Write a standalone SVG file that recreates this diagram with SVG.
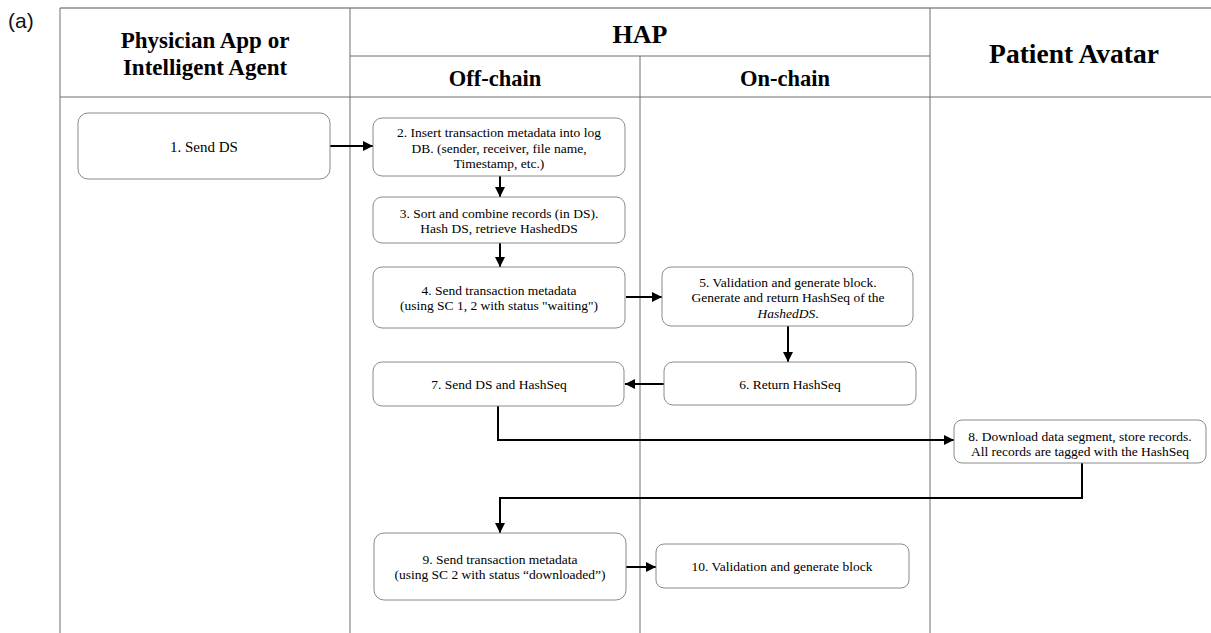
<svg xmlns="http://www.w3.org/2000/svg" width="1211" height="633" viewBox="0 0 1211 633">
  <style>
    .grid { stroke: #6e6e6e; stroke-width: 1; fill: none; }
    .top { stroke: #a8a8a8; stroke-width: 2; fill: none; }
    .head { font-family: "Liberation Serif", "Times New Roman", serif; font-weight: bold; fill: #000; text-anchor: middle; }
    .box { fill: #fff; stroke: #8a8a8a; stroke-width: 1; }
    .lbl { font-family: "Liberation Serif", "Times New Roman", serif; font-size: 13.5px; fill: #000; text-anchor: middle; }
    .big { font-size: 15px; }
    .edge { stroke: #000; stroke-width: 2; fill: none; marker-end: url(#arrow); }
  </style>
  <defs>
    <marker id="arrow" viewBox="0 0 10 10" refX="10" refY="5" markerWidth="10" markerHeight="10" markerUnits="userSpaceOnUse" orient="auto">
      <path d="M0,0 L10,5 L0,10 z" fill="#000"/>
    </marker>
  </defs>

  <rect width="1211" height="633" fill="#fff"/>

  <text x="8" y="28" font-family="Liberation Sans, Arial, sans-serif" font-size="21" fill="#111">(a)</text>

  <!-- swimlane grid -->
  <g id="lanes">
    <line class="top" x1="60" y1="8" x2="1211" y2="8"/>
    <line class="grid" x1="60" y1="8" x2="60" y2="633"/>
    <line class="grid" x1="350" y1="8" x2="350" y2="633"/>
    <line class="grid" x1="930" y1="8" x2="930" y2="633"/>
    <line class="grid" x1="640" y1="56" x2="640" y2="633"/>
    <line class="grid" x1="350" y1="56" x2="930" y2="56"/>
    <line class="grid" x1="60" y1="97" x2="1211" y2="97"/>
    <text class="head" x="205" y="48" font-size="23">Physician App or</text>
    <text class="head" x="205" y="75" font-size="23">Intelligent Agent</text>
    <text class="head" x="640" y="43" font-size="26">HAP</text>
    <text class="head" x="495" y="86" font-size="22.5">Off-chain</text>
    <text class="head" x="785" y="86" font-size="22.5">On-chain</text>
    <text class="head" x="1074" y="63" font-size="27.5">Patient Avatar</text>
  </g>

  <!-- connectors -->
  <g id="connectors">
    <line class="edge" x1="330" y1="146" x2="373" y2="146"/>
    <line class="edge" x1="500" y1="176" x2="500" y2="197"/>
    <line class="edge" x1="500" y1="243" x2="500" y2="267"/>
    <line class="edge" x1="626" y1="297" x2="662" y2="297"/>
    <line class="edge" x1="788" y1="326" x2="788" y2="362"/>
    <line class="edge" x1="664" y1="384" x2="625" y2="384"/>
    <polyline class="edge" points="498,406 498,440 954,440"/>
    <polyline class="edge" points="1082,463 1082,498 500,498 500,533"/>
    <line class="edge" x1="626" y1="567" x2="656" y2="567"/>
  </g>

  <g id="n1">
    <rect class="box" x="78" y="113" width="252" height="66" rx="10"/>
    <text class="lbl big" x="204" y="151.5">1. Send DS</text>
  </g>
  <g id="n2">
    <rect class="box" x="373" y="118" width="252" height="58" rx="9"/>
    <text class="lbl" x="499" y="137">2. Insert transaction metadata into log</text>
    <text class="lbl" x="499" y="152.5">DB. (sender, receiver, file name,</text>
    <text class="lbl" x="499" y="168">Timestamp, etc.)</text>
  </g>
  <g id="n3">
    <rect class="box" x="373" y="197" width="252" height="46" rx="9"/>
    <text class="lbl" x="499" y="218">3. Sort and combine records (in DS).</text>
    <text class="lbl" x="499" y="233">Hash DS, retrieve HashedDS</text>
  </g>
  <g id="n4">
    <rect class="box" x="373" y="267" width="252" height="61" rx="9"/>
    <text class="lbl" x="499" y="295">4. Send transaction metadata</text>
    <text class="lbl" x="499" y="310">(using SC 1, 2 with status "waiting")</text>
  </g>
  <g id="n5">
    <rect class="box" x="662" y="267" width="251" height="59" rx="9"/>
    <text class="lbl" x="788" y="286.5">5. Validation and generate block.</text>
    <text class="lbl" x="788" y="302">Generate and return HashSeq of the</text>
    <text class="lbl" x="788" y="317.5"><tspan font-style="italic">HashedDS</tspan>.</text>
  </g>
  <g id="n6">
    <rect class="box" x="664" y="362" width="252" height="43" rx="9"/>
    <text class="lbl" x="790" y="389">6. Return HashSeq</text>
  </g>
  <g id="n7">
    <rect class="box" x="373" y="362" width="251" height="44" rx="9"/>
    <text class="lbl" x="499" y="389">7. Send DS and HashSeq</text>
  </g>
  <g id="n8">
    <rect class="box" x="954" y="420" width="252" height="43" rx="8"/>
    <text class="lbl" x="1080" y="440.5">8. Download data segment, store records.</text>
    <text class="lbl" x="1080" y="455.5">All records are tagged with the HashSeq</text>
  </g>
  <g id="n9">
    <rect class="box" x="374" y="533" width="252" height="67" rx="10"/>
    <text class="lbl" x="500" y="564">9. Send transaction metadata</text>
    <text class="lbl" x="500" y="578.5">(using SC 2 with status “downloaded”)</text>
  </g>
  <g id="n10">
    <rect class="box" x="656" y="544" width="253" height="44" rx="8"/>
    <text class="lbl" x="782" y="570.5">10. Validation and generate block</text>
  </g>
</svg>
